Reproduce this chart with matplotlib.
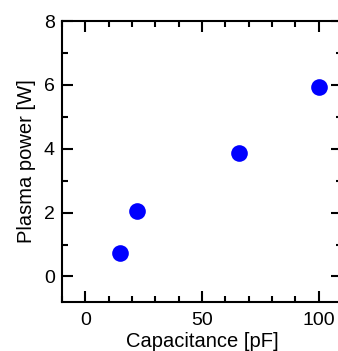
import matplotlib
matplotlib.use('Agg')
import matplotlib.pyplot as plt
from matplotlib.ticker import MultipleLocator

# Data
capacitance = [15, 22, 66, 100]
plasma_power = [0.72, 2.05, 3.87, 5.95]

plt.rcParams['font.family'] = ['Liberation Sans', 'DejaVu Sans']

fig = plt.figure(figsize=(3.38, 3.51), dpi=100)
ax = fig.add_axes([0.183, 0.1396, 1.012 - 0.183, 0.940 - 0.1396])

ax.plot(capacitance, plasma_power, 'o', color='#0000ff', markersize=12, markeredgewidth=0)

ax.set_xlim(-10, 110)
ax.set_ylim(-0.8, 8)
ax.xaxis.set_major_locator(MultipleLocator(50))
ax.xaxis.set_minor_locator(MultipleLocator(10))
ax.yaxis.set_major_locator(MultipleLocator(2))
ax.yaxis.set_minor_locator(MultipleLocator(1))

ax.tick_params(which='both', direction='in', top=True, right=True, width=1.5, labelsize=14, colors='black')
ax.tick_params(which='major', length=8, pad=5)
ax.tick_params(axis='x', which='major', pad=7)
ax.tick_params(which='minor', length=4.5)
for s in ax.spines.values():
    s.set_linewidth(1.5)

ax.set_xlabel('Capacitance [pF]', fontsize=14.5, labelpad=2)
ax.set_ylabel('Plasma power [W]', fontsize=14.5, labelpad=6)

fig.savefig('out.png', dpi=100)
